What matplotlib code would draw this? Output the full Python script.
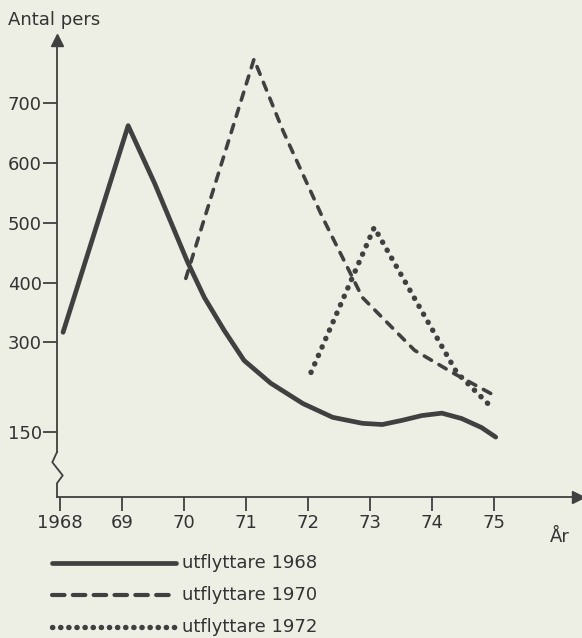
import matplotlib
matplotlib.use('Agg')
import matplotlib.pyplot as plt
from matplotlib.lines import Line2D

# Data
years_1968 = [1968.05, 1969.1, 1969.53, 1970.06, 1970.33, 1970.65, 1970.97, 1971.4,
              1971.92, 1972.4, 1972.88, 1973.2, 1973.52, 1973.84, 1974.16, 1974.48,
              1974.8, 1975.03]
vals_1968 = [317, 662, 565, 434, 375, 320, 270, 232, 198, 175, 165, 163, 170, 178,
             182, 173, 158, 142]

years_1970 = [1970.03, 1971.13, 1971.6, 1972.24, 1972.88, 1973.72, 1974.36, 1975.0]
vals_1970 = [407, 773, 653, 508, 375, 287, 248, 212]

years_1972 = [1972.05, 1973.07, 1974.4, 1975.0]
vals_1972 = [250, 492, 250, 188]

xticks = [1968, 1969, 1970, 1971, 1972, 1973, 1974, 1975]
xlabels = ['1968', '69', '70', '71', '72', '73', '74', '75']
yticks = [150, 300, 400, 500, 600, 700]
labels = ['utflyttare 1968', 'utflyttare 1970', 'utflyttare 1972']

BG = '#edeee4'
INK = '#404040'
TXT = '#333333'

plt.rcParams['font.family'] = ['DejaVu Sans']
plt.rcParams['font.size'] = 13

fig = plt.figure(figsize=(5.82, 6.38), dpi=100, facecolor=BG)
ax = fig.add_axes([57 / 582, 1 - 497 / 638, (578 - 57) / 582, (497 - 40) / 638])
ax.set_facecolor(BG)

styles = [
    dict(lw=3.4, linestyle='-'),
    dict(lw=2.6, linestyle=(0, (2.3, 2.4))),
    dict(lw=3.9, linestyle=(0, (0.05, 1.65))),
]
legend_styles = [
    dict(lw=3.4, linestyle='-'),
    dict(lw=3.0, linestyle=(0, (3.0, 2.0))),
    dict(lw=3.9, linestyle=(0, (0.05, 1.45))),
]

for xs, ys, st in zip([years_1968, years_1970, years_1972],
                      [vals_1968, vals_1970, vals_1972], styles):
    ax.plot(xs, ys, color=INK, solid_capstyle='round', solid_joinstyle='round',
            dash_capstyle='round', **st)

ax.set_xlim(1968 - 3 / 62.7, 1968 + (578 - 54) / 62.7)
ax.set_ylim(42, 805)

for s in ['top', 'right']:
    ax.spines[s].set_visible(False)
for s in ['bottom', 'left']:
    ax.spines[s].set_color(INK)
    ax.spines[s].set_linewidth(1.3)
ax.spines['left'].set_bounds(117, 805)

# axis break on the y-axis
ax.plot([0, -0.009, 0.011, 0.0, 0.0], [117, 100, 78, 65, 42], color=INK, lw=1.3,
        transform=ax.get_yaxis_transform(), clip_on=False)

# arrows
ax.plot(0, 1, marker='^', color=INK, ms=8, transform=ax.transAxes, clip_on=False)
ax.plot(1, 0, marker='>', color=INK, ms=8, transform=ax.transAxes, clip_on=False)

ax.set_xticks(xticks)
ax.set_xticklabels(xlabels)
ax.set_yticks(yticks)
ax.tick_params(axis='x', length=10, width=1.3, color=INK, labelcolor=TXT, pad=2)
ax.tick_params(axis='y', length=10, width=1.3, color=INK, labelcolor=TXT, pad=1)

fig.text(8 / 582, 1 - 20 / 638, 'Antal pers', color=TXT, va='center', ha='left')
fig.text(550 / 582, 1 - 537 / 638, 'År', color=TXT, va='center', ha='left')

# legend
for i, (st, lab) in enumerate(zip(legend_styles, labels)):
    y = 1 - (563 + 32 * i) / 638
    ln = Line2D([52 / 582, 176 / 582], [y, y], transform=fig.transFigure,
                color=INK, solid_capstyle='round', dash_capstyle='round', **st)
    fig.add_artist(ln)
    fig.text(182 / 582, y, lab, color=TXT, va='center', ha='left')

fig.savefig('out.png', dpi=100, facecolor=BG)
